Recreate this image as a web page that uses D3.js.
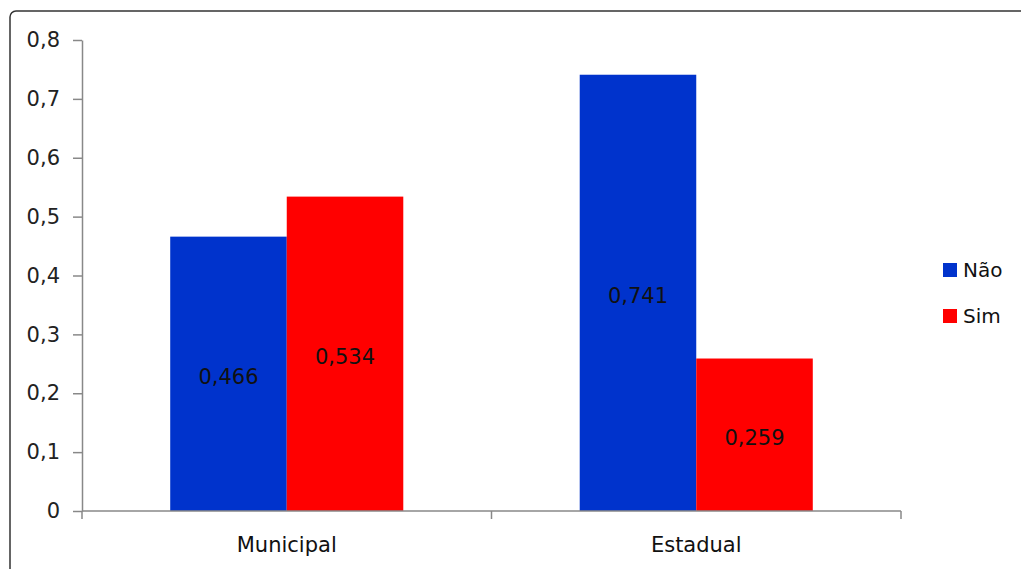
<!DOCTYPE html>
<html><head><meta charset="utf-8">
<script src="https://cdn.jsdelivr.net/npm/d3@7"></script>
<style>
html,body{margin:0;padding:0;background:#fff;}
svg{display:block;font-family:"DejaVu Sans",Verdana,sans-serif;}
</style></head>
<body>
<svg id="chart" width="1021" height="569"></svg>
<script>
const categories = ["Municipal", "Estadual"];
const seriesNames = ["Não", "Sim"];
const naoValues = [0.466, 0.741];
const simValues = [0.534, 0.259];
const yTicks = [0, 0.1, 0.2, 0.3, 0.4, 0.5, 0.6, 0.7, 0.8];
const seriesColors = ["#0033CC", "#FF0000"];

const svg = d3.select("#chart");
const fontSize = 21;

// border
svg.append("rect").attr("x", 10).attr("y", 11).attr("width", 1030).attr("height", 580)
  .attr("rx", 6).attr("fill", "#fff").attr("stroke", "#333").attr("stroke-width", 1.5);

const x0 = d3.scaleBand().domain(categories).range([82, 901]).paddingInner(0).paddingOuter(0);
const x1 = d3.scaleBand().domain(seriesNames).range([0, x0.bandwidth()]).paddingInner(0).paddingOuter(0.757);
const y = d3.scaleLinear().domain([0, 0.8]).range([511, 40]);

const fmtTick = d => d === 0 ? "0" : d.toFixed(1).replace(".", ",");
const fmtVal = d => d.toFixed(3).replace(".", ",");

// y axis
const yAxis = svg.append("g").attr("transform", "translate(82,0)")
  .call(d3.axisLeft(y).tickValues(yTicks).tickFormat(fmtTick).tickSize(9).tickPadding(13).tickSizeOuter(0));
yAxis.select(".domain").attr("stroke", "#888").attr("stroke-width", 1.5);
yAxis.selectAll(".tick line").attr("stroke", "#888").attr("stroke-width", 1.5);
yAxis.selectAll(".tick text").attr("font-size", fontSize).attr("fill", "#222")
  .attr("font-family", "DejaVu Sans, sans-serif");

// bars
const rows = categories.map((c, i) => ({ cat: c, vals: [naoValues[i], simValues[i]] }));
const groups = svg.append("g").selectAll("g").data(rows).join("g")
  .attr("transform", d => `translate(${x0(d.cat)},0)`);
groups.selectAll("rect").data(d => d.vals.map((v, j) => ({ s: seriesNames[j], v, j })))
  .join("rect")
  .attr("x", d => x1(d.s)).attr("width", x1.bandwidth())
  .attr("y", d => y(d.v)).attr("height", d => y(0) - y(d.v))
  .attr("fill", d => seriesColors[d.j]);
groups.selectAll("text").data(d => d.vals.map((v, j) => ({ s: seriesNames[j], v, j })))
  .join("text")
  .attr("x", d => x1(d.s) + x1.bandwidth() / 2)
  .attr("y", d => (y(d.v) + y(0)) / 2 + 3)
  .attr("dy", "0.36em")
  .attr("text-anchor", "middle")
  .attr("font-size", fontSize).attr("fill", "#111")
  .text(d => fmtVal(d.v));

// x axis
const xAxisG = svg.append("g").attr("transform", "translate(0,511)");
xAxisG.append("line").attr("x1", 82).attr("x2", 901).attr("y1", 0).attr("y2", 0)
  .attr("stroke", "#888").attr("stroke-width", 1.5);
const xBounds = [x0.range()[0]].concat(categories.map(c => x0(c) + x0.bandwidth()));
xAxisG.selectAll("line.tk").data(xBounds).join("line").attr("class", "tk")
  .attr("x1", d => d).attr("x2", d => d).attr("y1", 0).attr("y2", 8)
  .attr("stroke", "#888").attr("stroke-width", 1.5);
xAxisG.selectAll("text").data(categories).join("text")
  .attr("x", d => x0(d) + x0.bandwidth() / 2).attr("y", 41)
  .attr("text-anchor", "middle").attr("font-size", fontSize).attr("fill", "#111")
  .text(d => d);

// legend
const legend = svg.append("g");
const legY = [263, 309];
seriesNames.forEach((s, i) => {
  legend.append("rect").attr("x", 943).attr("y", legY[i]).attr("width", 14).attr("height", 14)
    .attr("fill", seriesColors[i]);
  legend.append("text").attr("x", 963).attr("y", legY[i] + 7).attr("dy", "0.36em")
    .attr("font-size", 20).attr("fill", "#111").text(s);
});
</script>
</body></html>
